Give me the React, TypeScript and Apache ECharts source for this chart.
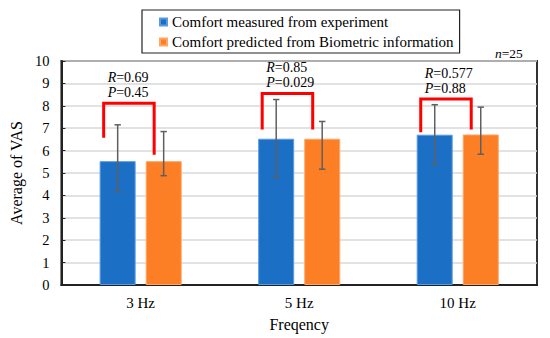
import React, { useEffect, useRef } from "react";
import * as echarts from "echarts";

const categories = ["3 Hz", "5 Hz", "10 Hz"];
const seriesNames = [
  "Comfort measured from experiment",
  "Comfort predicted from Biometric information",
];
const measured = [5.53, 6.53, 6.71];
const measuredLow = [4.17, 4.83, 5.39];
const measuredHigh = [7.15, 8.28, 8.05];
const predicted = [5.53, 6.53, 6.72];
const predictedLow = [4.88, 5.17, 5.84];
const predictedHigh = [6.85, 7.3, 7.94];
const rValues = ["0.69", "0.85", "0.577"];
const pValues = ["0.45", "0.029", "0.88"];
const bracketTop = [8.11, 8.55, 8.3];
const bracketLeftEnd = [6.57, 6.94, 6.82];
const bracketRightEnd = [5.82, 6.94, 6.94];
const yTicks = [0, 10, 1];

const FONT = '"Liberation Serif", "Times New Roman", serif';
const BLUE = "#1b70c6";
const ORANGE = "#fd7f25";

export default function App() {
  const ref = useRef<HTMLDivElement>(null);
  useEffect(() => {
    document.body.style.margin = "0";
    if (!ref.current) return;
    const chart = echarts.init(ref.current, undefined, { renderer: "svg" });

    const errSeries = (low: number[], high: number[], offset: number) => ({
      type: "custom",
      silent: true,
      z: 5,
      data: categories.map((_, i) => [i, low[i], high[i]]),
      renderItem: (params: any, api: any) => {
        const p1 = api.coord([api.value(0), api.value(1)]);
        const p2 = api.coord([api.value(0), api.value(2)]);
        const x = p1[0] + offset;
        const cw = 3.2;
        const st = { stroke: "#5f5f5f", lineWidth: 1.5 };
        return {
          type: "group",
          children: [
            { type: "line", shape: { x1: x, y1: p1[1], x2: x, y2: p2[1] }, style: st },
            { type: "line", shape: { x1: x - cw, y1: p1[1], x2: x + cw, y2: p1[1] }, style: st },
            { type: "line", shape: { x1: x - cw, y1: p2[1], x2: x + cw, y2: p2[1] }, style: st },
          ],
        };
      },
    });

    const option: any = {
      animation: false,
      textStyle: { fontFamily: FONT },
      grid: {
        left: 57,
        right: 13,
        top: 61,
        bottom: 53,
        show: true,
        borderColor: "#333",
        borderWidth: 2,
      },
      legend: {
        data: seriesNames,
        orient: "vertical",
        left: 142,
        top: 10,
        icon: "rect",
        itemWidth: 7,
        itemHeight: 7,
        itemGap: 4,
        padding: [4, 6, 3, 17],
        borderColor: "#222",
        borderWidth: 1.2,
        selectedMode: false,
        textStyle: { fontFamily: FONT, fontSize: 15, color: "#000", lineHeight: 16 },
      },
      xAxis: {
        type: "category",
        data: categories,
        axisLine: { lineStyle: { color: "#222", width: 2 } },
        axisTick: { show: false },
        axisLabel: { fontFamily: FONT, fontSize: 15, color: "#000", margin: 10 },
        name: "Freqency",
        nameLocation: "middle",
        nameGap: 31,
        nameTextStyle: { fontFamily: FONT, fontSize: 16, color: "#000" },
      },
      yAxis: {
        type: "value",
        min: yTicks[0],
        max: yTicks[1],
        interval: yTicks[2],
        axisLine: { show: true, lineStyle: { color: "#222", width: 2 } },
        axisTick: { show: true, inside: true, length: 4, lineStyle: { color: "#222" } },
        splitLine: { lineStyle: { color: "#d9d9d9", width: 1.5 } },
        axisLabel: { fontFamily: FONT, fontSize: 14.5, color: "#000", margin: 12 },
        name: "Average of VAS",
        nameLocation: "middle",
        nameGap: 32,
        nameTextStyle: { fontFamily: FONT, fontSize: 16, color: "#000" },
      },
      series: [
        {
          name: seriesNames[0],
          type: "bar",
          data: measured,
          barWidth: 36,
          barGap: "28%",
          itemStyle: { color: BLUE, borderColor: "#5a9be0", borderWidth: 1 },
        },
        {
          name: seriesNames[1],
          type: "bar",
          data: predicted,
          barWidth: 36,
          barGap: "28%",
          itemStyle: { color: ORANGE, borderColor: "#ffa566", borderWidth: 1 },
        },
        errSeries(measuredLow, measuredHigh, -23),
        errSeries(predictedLow, predictedHigh, 23),
        {
          type: "custom",
          silent: true,
          z: 6,
          data: categories.map((_, i) => [i, bracketTop[i], bracketLeftEnd[i], bracketRightEnd[i]]),
          renderItem: (params: any, api: any) => {
            const i = params.dataIndex;
            const top = api.coord([api.value(0), api.value(1)]);
            const lb = api.coord([api.value(0), api.value(2)]);
            const rb = api.coord([api.value(0), api.value(3)]);
            const xl = top[0] - 37;
            const xr = top[0] + 13.5;
            const rich = {
              i: { fontStyle: "italic", fontFamily: FONT, fontSize: 14, fill: "#000" },
              n: { fontFamily: FONT, fontSize: 14, fill: "#000" },
            };
            return {
              type: "group",
              children: [
                {
                  type: "polyline",
                  shape: { points: [[xl, lb[1]], [xl, top[1]], [xr, top[1]], [xr, rb[1]]] },
                  style: { stroke: "#ff0000", lineWidth: 3, fill: "none" },
                },
                {
                  type: "text",
                  x: xl + 4,
                  y: top[1] - 26,
                  style: {
                    text: "{i|R}{n|=" + rValues[i] + "}",
                    rich,
                    verticalAlign: "middle",
                    align: "left",
                  },
                },
                {
                  type: "text",
                  x: xl + 4,
                  y: top[1] - 10.5,
                  style: {
                    text: "{i|P}{n|=" + pValues[i] + "}",
                    rich,
                    verticalAlign: "middle",
                    align: "left",
                  },
                },
              ],
            };
          },
        },
      ],
      graphic: [
        {
          type: "text",
          x: 495,
          y: 53,
          style: {
            text: "{i|n}{n|=25}",
            rich: {
              i: { fontStyle: "italic", fontFamily: FONT, fontSize: 13.5, fill: "#000" },
              n: { fontFamily: FONT, fontSize: 13.5, fill: "#000" },
            },
            verticalAlign: "middle",
          },
        },
      ],
    };
    chart.setOption(option);
    return () => chart.dispose();
  }, []);
  return (
    <div
      ref={ref}
      style={{ position: "absolute", left: 0, top: 0, width: 550, height: 338 }}
    />
  );
}
